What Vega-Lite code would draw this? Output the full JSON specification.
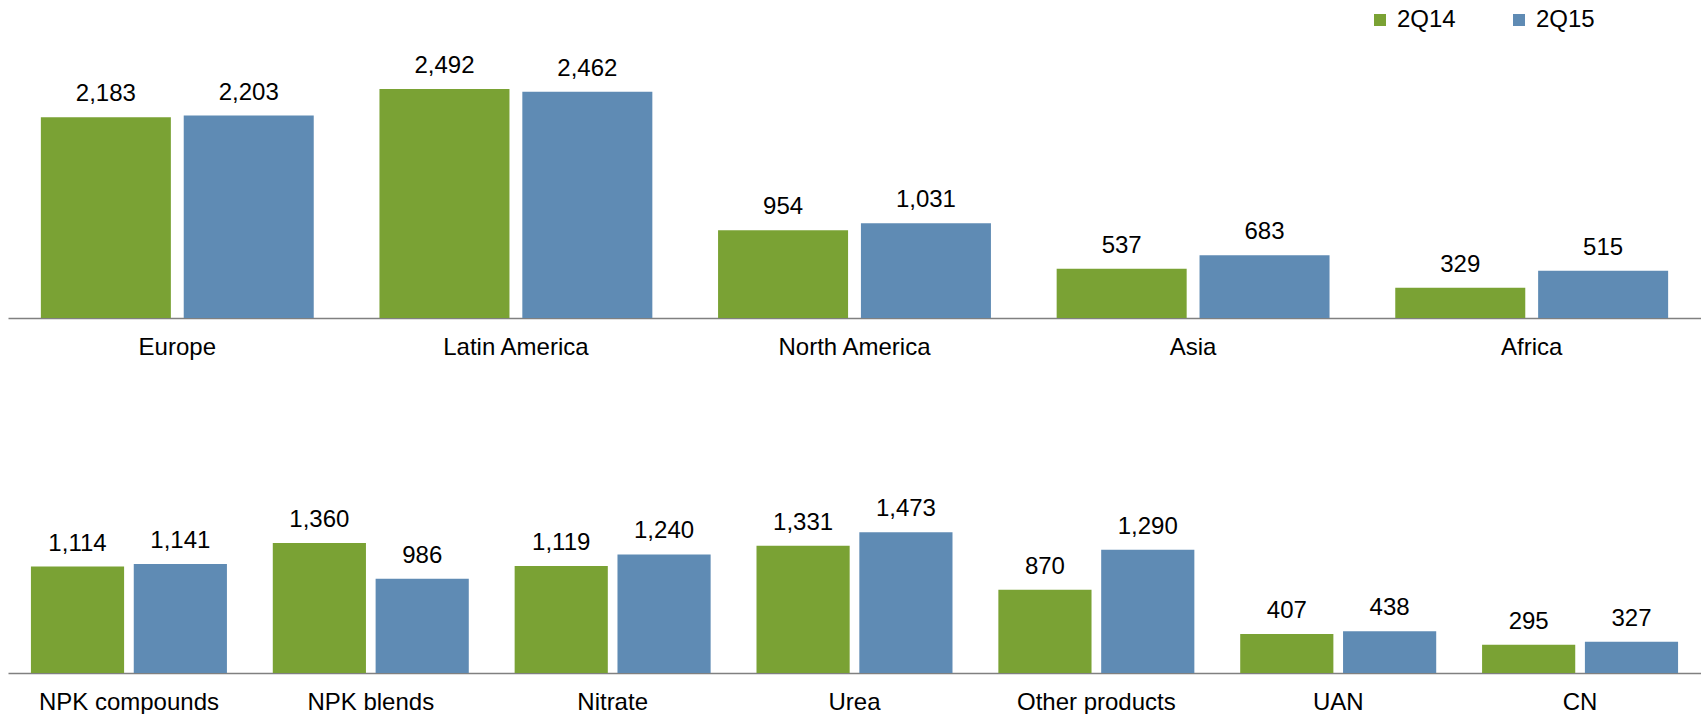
{
  "$schema": "https://vega.github.io/schema/vega-lite/v6.json",
  "padding": {"left": 8, "top": 0, "right": 0, "bottom": 0},
  "background": "white",
  "datasets": {
    "regions": [
      {"cat": "Europe", "period": "2Q14", "value": 2183},
      {"cat": "Europe", "period": "2Q15", "value": 2203},
      {"cat": "Latin America", "period": "2Q14", "value": 2492},
      {"cat": "Latin America", "period": "2Q15", "value": 2462},
      {"cat": "North America", "period": "2Q14", "value": 954},
      {"cat": "North America", "period": "2Q15", "value": 1031},
      {"cat": "Asia", "period": "2Q14", "value": 537},
      {"cat": "Asia", "period": "2Q15", "value": 683},
      {"cat": "Africa", "period": "2Q14", "value": 329},
      {"cat": "Africa", "period": "2Q15", "value": 515}
    ],
    "products": [
      {"cat": "NPK compounds", "period": "2Q14", "value": 1114},
      {"cat": "NPK compounds", "period": "2Q15", "value": 1141},
      {"cat": "NPK blends", "period": "2Q14", "value": 1360},
      {"cat": "NPK blends", "period": "2Q15", "value": 986},
      {"cat": "Nitrate", "period": "2Q14", "value": 1119},
      {"cat": "Nitrate", "period": "2Q15", "value": 1240},
      {"cat": "Urea", "period": "2Q14", "value": 1331},
      {"cat": "Urea", "period": "2Q15", "value": 1473},
      {"cat": "Other products", "period": "2Q14", "value": 870},
      {"cat": "Other products", "period": "2Q15", "value": 1290},
      {"cat": "UAN", "period": "2Q14", "value": 407},
      {"cat": "UAN", "period": "2Q15", "value": 438},
      {"cat": "CN", "period": "2Q14", "value": 295},
      {"cat": "CN", "period": "2Q15", "value": 327}
    ]
  },
  "spacing": 17,
  "resolve": {"scale": {"x": "independent", "xOffset": "independent", "y": "independent"}},
  "vconcat": [
    {
      "width": 1693,
      "height": 318,
      "data": {"name": "regions"},
      "encoding": {
        "x": {"field": "cat", "type": "nominal", "sort": null, "scale": {"paddingInner": 0, "paddingOuter": 0}, "axis": {"title": null}},
        "xOffset": {"field": "period", "type": "nominal", "scale": {"paddingInner": 0.09, "paddingOuter": 0.23}},
        "y": {"field": "value", "type": "quantitative", "scale": {"domain": [0, 3460], "nice": false, "zero": true}, "axis": null}
      },
      "layer": [
        {
          "mark": {"type": "bar"},
          "encoding": {
            "color": {"field": "period", "type": "nominal", "scale": {"domain": ["2Q14", "2Q15"], "range": ["#7AA234", "#5F8BB4"]},
              "legend": {"orient": "none", "legendX": 1360, "legendY": 8, "direction": "horizontal", "title": null}}
          }
        },
        {
          "mark": {"type": "text", "baseline": "alphabetic", "dy": -16, "fontSize": 24, "font": "Liberation Sans", "color": "black"},
          "encoding": {"text": {"field": "value", "type": "quantitative", "format": ",d"}}
        }
      ]
    },
    {
      "width": 1693,
      "height": 297,
      "data": {"name": "products"},
      "encoding": {
        "x": {"field": "cat", "type": "nominal", "sort": null, "scale": {"paddingInner": 0, "paddingOuter": 0}, "axis": {"title": null}},
        "xOffset": {"field": "period", "type": "nominal", "scale": {"paddingInner": 0.094, "paddingOuter": 0.223}},
        "y": {"field": "value", "type": "quantitative", "scale": {"domain": [0, 3107], "nice": false, "zero": true}, "axis": null}
      },
      "layer": [
        {
          "mark": {"type": "bar"},
          "encoding": {
            "color": {"field": "period", "type": "nominal", "scale": {"domain": ["2Q14", "2Q15"], "range": ["#7AA234", "#5F8BB4"]}}
          }
        },
        {
          "mark": {"type": "text", "baseline": "alphabetic", "dy": -16, "fontSize": 24, "font": "Liberation Sans", "color": "black"},
          "encoding": {"text": {"field": "value", "type": "quantitative", "format": ",d"}}
        }
      ]
    }
  ],
  "config": {
    "view": {"stroke": null},
    "axisX": {"ticks": false, "domainColor": "#808080", "domainWidth": 1.5, "labelFontSize": 24, "labelFont": "Liberation Sans", "labelColor": "black", "labelPadding": 17, "labelAngle": 0, "labelLimit": 0, "grid": false},
    "legend": {"symbolType": "square", "symbolSize": 144, "symbolStrokeWidth": 0, "labelFontSize": 24, "labelFont": "Liberation Sans", "labelColor": "black", "columnPadding": 51, "labelOffset": 5, "padding": 0}
  }
}
